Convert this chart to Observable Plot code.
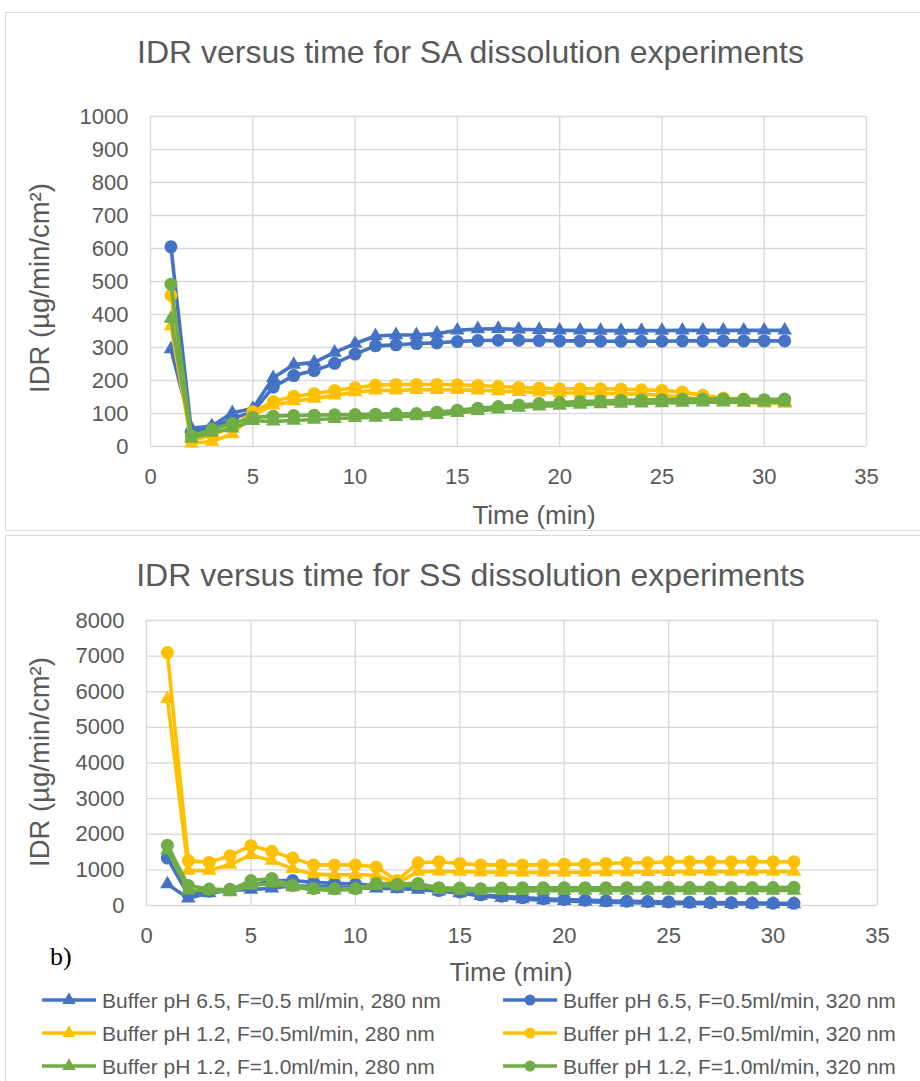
<!DOCTYPE html>
<html>
<head>
<meta charset="utf-8">
<script src="https://cdn.jsdelivr.net/npm/d3@7"></script>
<script src="https://cdn.jsdelivr.net/npm/@observablehq/plot@0.6"></script>
<style>
  body { margin: 0; background: #fff; }
  #page { position: relative; width: 920px; height: 1081px; overflow: hidden; background: #fff;
          font-family: "Liberation Sans", Arial, sans-serif; color: #595959; }
  .panel { position: absolute; border: 1.5px solid #d9d9d9; box-sizing: border-box; }
  .title { position: absolute; left: 0; width: 941px; text-align: center; font-size: 32px; line-height: 1; white-space: nowrap; }
  .xlab { position: absolute; font-size: 26px; line-height: 1; white-space: nowrap; transform: translate(-50%, -50%); }
  .ylab { position: absolute; font-size: 27.5px; line-height: 1; white-space: nowrap; transform: translate(-50%, -50%) rotate(-90deg); }
  .tag { position: absolute; font-family: "Liberation Serif", "Times New Roman", serif; font-size: 26px; color: #000; line-height: 1; }
  .chart { position: absolute; left: 0; }
  .leg { position: absolute; display: flex; align-items: center; font-size: 21px; white-space: nowrap; line-height: 1; }
  .leg svg { margin-right: 6px; }
</style>
</head>
<body>
<div id="page">
  <div class="panel" style="left:5px;top:12px;width:930px;height:519px;"></div>
  <div class="panel" style="left:5px;top:535px;width:930px;height:600px;"></div>

  <div class="title" style="top:36px;">IDR versus time for SA dissolution experiments</div>
  <div class="title" style="top:559px;">IDR versus time for SS dissolution experiments</div>

  <div id="top" class="chart" style="top:0;"></div>
  <div id="bottom" class="chart" style="top:533px;"></div>

  <div class="ylab" style="left:40px;top:288px;">IDR (µg/min/cm²)</div>
  <div class="ylab" style="left:40px;top:762px;">IDR (µg/min/cm²)</div>
  <div class="xlab" style="left:534px;top:515px;">Time (min)</div>
  <div class="xlab" style="left:511px;top:972px;">Time (min)</div>
  <div class="tag" style="left:50px;top:944px;">b)</div>

  <div id="legend"></div>
</div>
<script>
// Sampling times (min)
const time = d3.range(1, 32);

// Series names and colours
const seriesNames = [
  "Buffer pH 6.5, F=0.5 ml/min, 280 nm",
  "Buffer pH 6.5, F=0.5ml/min, 320 nm",
  "Buffer pH 1.2, F=0.5ml/min, 280 nm",
  "Buffer pH 1.2, F=0.5ml/min, 320 nm",
  "Buffer pH 1.2, F=1.0ml/min, 280 nm",
  "Buffer pH 1.2, F=1.0ml/min, 320 nm"
];
const seriesColors = ["#4472C4", "#4472C4", "#FFC000", "#FFC000", "#70AD47", "#70AD47"];
const seriesSymbols = ["triangle", "circle", "triangle", "circle", "triangle", "circle"];

// SA experiments: IDR (µg/min/cm²)
const saPh65_280 = [295, 55, 62, 102, 115, 208, 248, 255, 285, 312, 335, 338, 338, 342, 352, 356, 357, 355, 354, 352, 352, 351, 351, 351, 351, 352, 352, 352, 352, 352, 352];
const saPh65_320 = [605, 45, 55, 85, 105, 180, 215, 230, 252, 280, 305, 308, 312, 314, 318, 321, 322, 322, 321, 320, 320, 319, 319, 319, 319, 320, 320, 320, 320, 320, 320];
const saPh12F05_280 = [365, 10, 15, 38, 95, 125, 138, 145, 155, 165, 170, 170, 172, 172, 172, 170, 168, 166, 164, 162, 162, 161, 160, 158, 156, 150, 142, 136, 133, 131, 130];
const saPh12F05_320 = [458, 18, 35, 58, 105, 136, 152, 160, 170, 178, 186, 188, 188, 188, 187, 185, 182, 179, 177, 175, 175, 175, 174, 172, 170, 165, 155, 147, 144, 140, 139];
const saPh12F10_280 = [388, 25, 42, 55, 78, 76, 79, 82, 84, 87, 88, 90, 92, 96, 102, 108, 113, 118, 122, 124, 127, 129, 130, 131, 132, 133, 134, 134, 134, 134, 134];
const saPh12F10_320 = [492, 32, 52, 70, 88, 92, 94, 95, 96, 97, 98, 99, 100, 104, 110, 116, 121, 126, 130, 133, 136, 138, 140, 141, 142, 143, 144, 144, 143, 142, 144];

// SS experiments: IDR (µg/min/cm²)
const ssPh65_280 = [600, 200, 350, 420, 450, 480, 560, 530, 520, 500, 480, 470, 450, 400, 350, 270, 220, 180, 150, 130, 110, 90, 80, 70, 60, 55, 50, 45, 40, 40, 40];
const ssPh65_320 = [1330, 300, 400, 450, 550, 700, 700, 650, 620, 600, 560, 520, 520, 420, 380, 300, 260, 220, 190, 170, 150, 130, 120, 110, 100, 90, 80, 75, 70, 65, 60];
const ssPh12F05_280 = [5800, 980, 980, 1150, 1420, 1260, 1030, 880, 860, 870, 850, 620, 950, 960, 950, 940, 930, 930, 930, 935, 935, 940, 940, 945, 945, 950, 950, 950, 950, 950, 950];
const ssPh12F05_320 = [7100, 1260, 1210, 1400, 1680, 1520, 1330, 1140, 1140, 1140, 1080, 700, 1200, 1230, 1180, 1140, 1140, 1140, 1140, 1160, 1160, 1180, 1200, 1200, 1230, 1230, 1230, 1230, 1230, 1230, 1230];
const ssPh12F10_280 = [1550, 430, 420, 380, 560, 620, 520, 440, 430, 450, 550, 560, 560, 440, 420, 410, 410, 410, 415, 415, 420, 420, 420, 420, 420, 420, 420, 420, 420, 420, 420];
const ssPh12F10_320 = [1690, 560, 460, 440, 700, 760, 560, 480, 470, 470, 620, 600, 620, 500, 490, 470, 490, 500, 500, 500, 500, 500, 500, 505, 505, 505, 505, 505, 505, 505, 510];

// Axis ticks
const xTicks = [0, 5, 10, 15, 20, 25, 30, 35];
const saYTicks = [0, 100, 200, 300, 400, 500, 600, 700, 800, 900, 1000];
const ssYTicks = [0, 1000, 2000, 3000, 4000, 5000, 6000, 7000, 8000];

const font = '"Liberation Sans", Arial, sans-serif';
const grid = "#d9d9d9";
const plain = d => String(d);

function rowsOf(values) {
  return time.map((t, i) => ({t, v: values[i]}));
}

function drawChart(seriesValues, yTicks, dims) {
  const marks = [
    Plot.gridY(yTicks, {stroke: grid, strokeOpacity: 1, strokeWidth: 1.4}),
    Plot.gridX(xTicks, {stroke: grid, strokeOpacity: 1, strokeWidth: 1.4}),
    Plot.axisY(yTicks, {tickSize: 0, tickPadding: 22, fontSize: 22, label: null, tickFormat: plain}),
    Plot.axisX(xTicks, {tickSize: 0, tickPadding: 22, fontSize: 22, label: null, tickFormat: plain})
  ];
  seriesValues.forEach((vals, i) => {
    const rows = rowsOf(vals);
    marks.push(Plot.line(rows, {x: "t", y: "v", stroke: seriesColors[i], strokeWidth: 3.6, curve: "linear"}));
    marks.push(Plot.dot(rows, {
      x: "t", y: "v", symbol: seriesSymbols[i], fill: seriesColors[i], stroke: "none",
      r: seriesSymbols[i] === "triangle" ? 5.4 : 6.5
    }));
  });
  return Plot.plot({
    width: 920,
    height: dims.height,
    marginLeft: dims.left,
    marginRight: dims.right,
    marginTop: dims.top,
    marginBottom: dims.bottom,
    style: {fontFamily: font, fontSize: "22px", color: "#595959", background: "transparent", overflow: "visible"},
    x: {domain: [0, 35], axis: null},
    y: {domain: [yTicks[0], yTicks[yTicks.length - 1]], axis: null},
    marks
  });
}

document.getElementById("top").append(drawChart(
  [saPh65_280, saPh65_320, saPh12F05_280, saPh12F05_320, saPh12F10_280, saPh12F10_320],
  saYTicks,
  {height: 530, left: 150, right: 54, top: 116, bottom: 84}
));

document.getElementById("bottom").append(drawChart(
  [ssPh65_280, ssPh65_320, ssPh12F05_280, ssPh12F05_320, ssPh12F10_280, ssPh12F10_320],
  ssYTicks,
  {height: 548, left: 146, right: 43, top: 87, bottom: 176}
));

// Legend: two columns, three rows
const legend = document.getElementById("legend");
const legX = [42, 503];
const legY = [1000, 1033, 1066];
seriesNames.forEach((name, i) => {
  const col = i % 2, row = Math.floor(i / 2);
  const item = document.createElement("div");
  item.className = "leg";
  item.style.left = legX[col] + "px";
  item.style.top = (legY[row] - 12) + "px";
  item.style.height = "24px";
  const marker = seriesSymbols[i] === "triangle"
    ? `<path d="${d3.symbol(d3.symbolTriangle, Math.PI * 5.0 * 5.0)()}" transform="translate(27,12)" fill="${seriesColors[i]}"/>`
    : `<circle cx="27" cy="12" r="5.5" fill="${seriesColors[i]}"/>`;
  item.innerHTML = `<svg width="54" height="24"><line x1="0" x2="54" y1="12" y2="12" stroke="${seriesColors[i]}" stroke-width="3.5"/>${marker}</svg><span>${name}</span>`;
  legend.append(item);
});
</script>
</body>
</html>
